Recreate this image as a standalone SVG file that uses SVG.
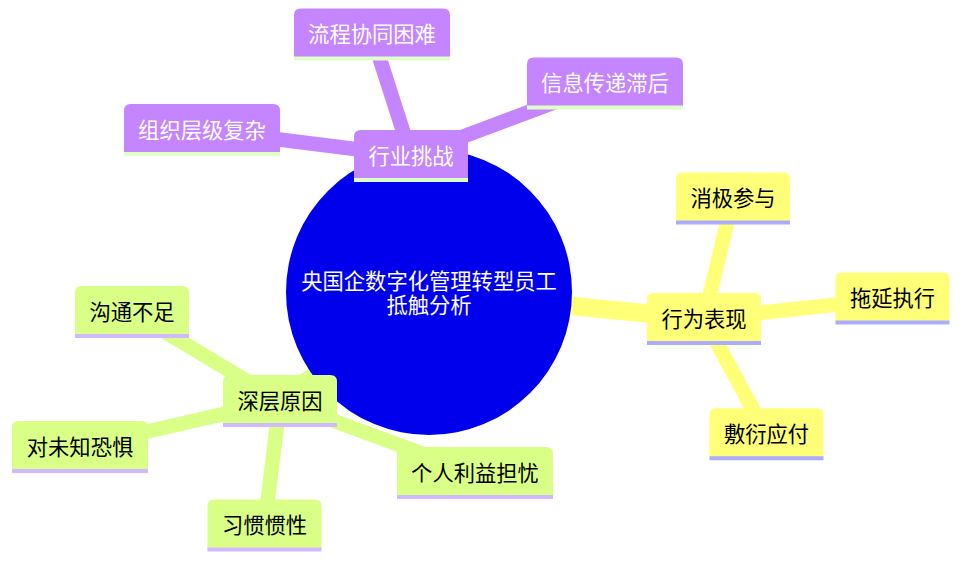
<svg xmlns="http://www.w3.org/2000/svg" xmlns:xlink="http://www.w3.org/1999/xlink" width="962" height="564" viewBox="0 0 962 564">
<style>
text{font-family:"Noto Sans CJK SC","Noto Sans",sans-serif;font-size:21.3px;text-anchor:middle}
.p .bg{fill:#c585ff}.p line{stroke:#dfffc6}.p text{fill:#ffffff}
.y .bg{fill:#ffff78}.y line{stroke:#ababff}.y text{fill:#000000}
.g .bg{fill:#d9ff86}.g line{stroke:#d2b9ff}.g text{fill:#000000}
.node line{stroke-width:4}
.edges line{stroke-linecap:butt}
.ep{stroke:#c585ff}.ey{stroke:#ffff78}.eg{stroke:#d9ff86}
.d1{stroke-width:18.5}.d2{stroke-width:14.6}
</style>
<defs>
<path id="s4" d="M0,50 V6.7 Q0,0 6.7,0 H107.3 Q114,0 114,6.7 V50 Z"/>
<path id="s5" d="M0,50 V6.7 Q0,0 6.7,0 H129.3 Q136,0 136,6.7 V50 Z"/>
<path id="s6" d="M0,50 V6.7 Q0,0 6.7,0 H149.3 Q156,0 156,6.7 V50 Z"/>
</defs>
<rect width="962" height="564" fill="#ffffff"/>
<g id="connectors" class="edges">
<line class="ep d1" x1="429" y1="292" x2="411" y2="156"/>
<line class="ey d1" x1="429" y1="292" x2="704" y2="319"/>
<line class="eg d1" x1="429" y1="292" x2="280" y2="401"/>
<line class="ep d2" x1="411" y1="156" x2="372" y2="34.5"/>
<line class="ep d2" x1="411" y1="156" x2="605" y2="83.5"/>
<line class="ep d2" x1="411" y1="156" x2="202" y2="130"/>
<line class="ey d2" x1="704" y1="319" x2="733" y2="198.5"/>
<line class="ey d2" x1="704" y1="319" x2="892.5" y2="298.5"/>
<line class="ey d2" x1="704" y1="319" x2="766.5" y2="434.3"/>
<line class="eg d2" x1="280" y1="401" x2="132" y2="312"/>
<line class="eg d2" x1="280" y1="401" x2="80" y2="447"/>
<line class="eg d2" x1="280" y1="401" x2="264.5" y2="525.5"/>
<line class="eg d2" x1="280" y1="401" x2="475" y2="473"/>
</g>
<g id="root">
<circle cx="429" cy="292" r="143" fill="#0000ec"/>
<text fill="#ffffff"><tspan x="429" y="289">央国企数字化管理转型员工</tspan><tspan x="429" y="312.5">抵触分析</tspan></text>
</g>
<g id="n-hangye" class="node p" transform="translate(354,130)"><use class="bg" xlink:href="#s4"/><line x1="0" y1="50" x2="114" y2="50"/><text x="57" y="33.5">行业挑战</text></g>
<g id="n-liucheng" class="node p" transform="translate(294,8.5)"><use class="bg" xlink:href="#s6"/><line x1="0" y1="50" x2="156" y2="50"/><text x="78" y="33.5">流程协同困难</text></g>
<g id="n-xinxi" class="node p" transform="translate(527,57.5)"><use class="bg" xlink:href="#s6"/><line x1="0" y1="50" x2="156" y2="50"/><text x="78" y="33.5">信息传递滞后</text></g>
<g id="n-zuzhi" class="node p" transform="translate(124,104)"><use class="bg" xlink:href="#s6"/><line x1="0" y1="50" x2="156" y2="50"/><text x="78" y="33.5">组织层级复杂</text></g>
<g id="n-xingwei" class="node y" transform="translate(647,293)"><use class="bg" xlink:href="#s4"/><line x1="0" y1="50" x2="114" y2="50"/><text x="57" y="33.5">行为表现</text></g>
<g id="n-xiaoji" class="node y" transform="translate(676,172.5)"><use class="bg" xlink:href="#s4"/><line x1="0" y1="50" x2="114" y2="50"/><text x="57" y="33.5">消极参与</text></g>
<g id="n-tuoyan" class="node y" transform="translate(835.5,272.5)"><use class="bg" xlink:href="#s4"/><line x1="0" y1="50" x2="114" y2="50"/><text x="57" y="33.5">拖延执行</text></g>
<g id="n-fuyan" class="node y" transform="translate(709.5,408.3)"><use class="bg" xlink:href="#s4"/><line x1="0" y1="50" x2="114" y2="50"/><text x="57" y="33.5">敷衍应付</text></g>
<g id="n-shenceng" class="node g" transform="translate(223,375)"><use class="bg" xlink:href="#s4"/><line x1="0" y1="50" x2="114" y2="50"/><text x="57" y="33.5">深层原因</text></g>
<g id="n-goutong" class="node g" transform="translate(75,286)"><use class="bg" xlink:href="#s4"/><line x1="0" y1="50" x2="114" y2="50"/><text x="57" y="33.5">沟通不足</text></g>
<g id="n-kongju" class="node g" transform="translate(12,421)"><use class="bg" xlink:href="#s5"/><line x1="0" y1="50" x2="136" y2="50"/><text x="68" y="33.5">对未知恐惧</text></g>
<g id="n-xiguan" class="node g" transform="translate(207.5,499.5)"><use class="bg" xlink:href="#s4"/><line x1="0" y1="50" x2="114" y2="50"/><text x="57" y="33.5">习惯惯性</text></g>
<g id="n-liyi" class="node g" transform="translate(397,447)"><use class="bg" xlink:href="#s6"/><line x1="0" y1="50" x2="156" y2="50"/><text x="78" y="33.5">个人利益担忧</text></g>
</svg>
